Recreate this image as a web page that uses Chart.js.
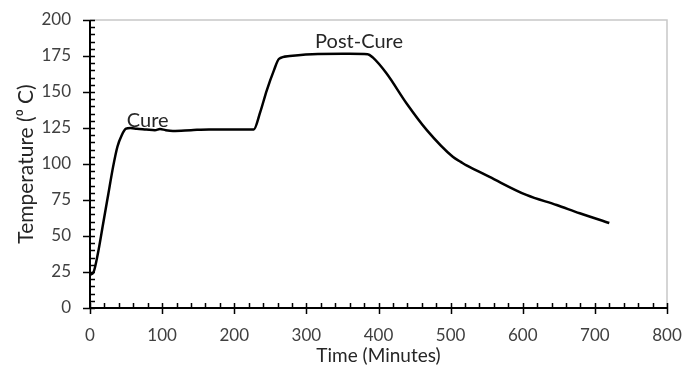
<!DOCTYPE html>
<html>
<head>
<meta charset="utf-8">
<script src="https://cdn.jsdelivr.net/npm/chart.js@4"></script>
<style>
html,body{margin:0;padding:0;background:#fff;}
#wrap{position:relative;width:683px;height:373px;}
</style>
</head>
<body>
<div id="wrap"><canvas id="c" width="683" height="373"></canvas></div>
<script>
// ---- data ----
const timeMinutes = [0, 5, 11, 18, 25, 32, 38, 44, 50, 56, 65, 78, 90, 97, 105, 115, 140, 165, 200, 227, 236, 245, 255, 262, 277, 316, 360, 385, 392, 411, 439, 467, 503, 514, 522, 532, 554, 605, 647, 679, 720];
const temperatureC = [23, 25, 38, 58, 78, 98, 112, 120, 124.5, 125, 124.5, 124, 123.5, 124.3, 123.5, 123, 123.5, 124, 124, 124, 136, 151, 165, 173, 175, 176.4, 176.5, 176.3, 174, 163, 142, 123.5, 105, 101.5, 99, 96.5, 91, 78.5, 71.5, 65.8, 59];
const xTicks = [0, 100, 200, 300, 400, 500, 600, 700, 800];
const yTicks = [0, 25, 50, 75, 100, 125, 150, 175, 200];
const annotationText = ['Cure', 'Post-Cure'];
const annotationX = [80, 373];
const annotationY = [130.5, 184.7];
const xTitle = 'Time (Minutes)';
const yTitle = 'Temperature (\u2070 C)';

const points = timeMinutes.map((t, i) => ({x: t, y: temperatureC[i]}));

const decorPlugin = {
  id: 'decor',
  afterDraw(chart) {
    const ctx = chart.ctx;
    const a = chart.chartArea;
    const xs = chart.scales.x, ys = chart.scales.y;
    ctx.save();
    // light frame on top and right
    ctx.strokeStyle = '#c8c8c8';
    ctx.lineWidth = 1.5;
    ctx.beginPath();
    ctx.moveTo(a.left, a.top); ctx.lineTo(a.right, a.top); ctx.lineTo(a.right, a.bottom);
    ctx.stroke();
    // axes lines
    ctx.strokeStyle = '#000';
    ctx.lineWidth = 2;
    ctx.beginPath();
    ctx.moveTo(a.left, a.top); ctx.lineTo(a.left, a.bottom); ctx.lineTo(a.right, a.bottom);
    ctx.stroke();
    // ticks
    ctx.lineWidth = 1.5;
    ctx.beginPath();
    for (let v = xs.min; v <= xs.max; v += 20) {
      const px = Math.round(xs.getPixelForValue(v)) + 0.5;
      const major = (v % 100 === 0);
      ctx.moveTo(px, a.bottom + (major ? 6 : 0));
      ctx.lineTo(px, a.bottom - 5);
    }
    for (let v = ys.min; v <= ys.max; v += 5) {
      const py = Math.round(ys.getPixelForValue(v)) + 0.5;
      const major = (v % 25 === 0);
      ctx.moveTo(a.left - (major ? 7 : 0), py);
      ctx.lineTo(a.left + 5, py);
    }
    ctx.stroke();
    // annotations
    ctx.fillStyle = '#262626';
    ctx.font = '20px Lato';
    ctx.textAlign = 'center';
    ctx.textBaseline = 'middle';
    annotationText.forEach((t, i) => {
      ctx.fillText(t, xs.getPixelForValue(annotationX[i]), ys.getPixelForValue(annotationY[i]));
    });
    ctx.restore();
  }
};

new Chart(document.getElementById('c'), {
  type: 'line',
  data: {
    datasets: [{
      data: points,
      borderColor: '#000',
      borderWidth: 2.5,
      pointRadius: 0,
      fill: false,
      cubicInterpolationMode: 'monotone'
    }]
  },
  options: {
    responsive: false,
    animation: false,
    events: [],
    layout: {padding: {top: 20, right: 16, left: 0, bottom: 0}},
    plugins: {legend: {display: false}, tooltip: {enabled: false}},
    scales: {
      x: {
        type: 'linear', min: 0, max: 800,
        afterBuildTicks: s => { s.ticks = xTicks.map(v => ({value: v})); },
        afterFit: s => { s.height = 65; s.paddingLeft = 0; s.paddingRight = 0; },
        grid: {display: false},
        border: {display: false},
        ticks: {color: '#404040', font: {family: 'Lato', size: 17}, padding: 9, maxRotation: 0},
        title: {display: true, text: xTitle, color: '#262626', font: {family: 'Lato', size: 19}, padding: {top: 0, bottom: 6}}
      },
      y: {
        type: 'linear', min: 0, max: 200,
        afterBuildTicks: s => { s.ticks = yTicks.map(v => ({value: v})); },
        afterFit: s => { s.width = 90; s.paddingTop = 0; s.paddingBottom = 0; },
        grid: {display: false},
        border: {display: false},
        ticks: {color: '#404040', font: {family: 'Lato', size: 17}, padding: 11},
        title: {display: true, text: yTitle, color: '#262626', font: {family: 'Lato', size: 21}, padding: {top: 14, bottom: 0}}
      }
    }
  },
  plugins: [decorPlugin]
});
</script>
</body>
</html>
